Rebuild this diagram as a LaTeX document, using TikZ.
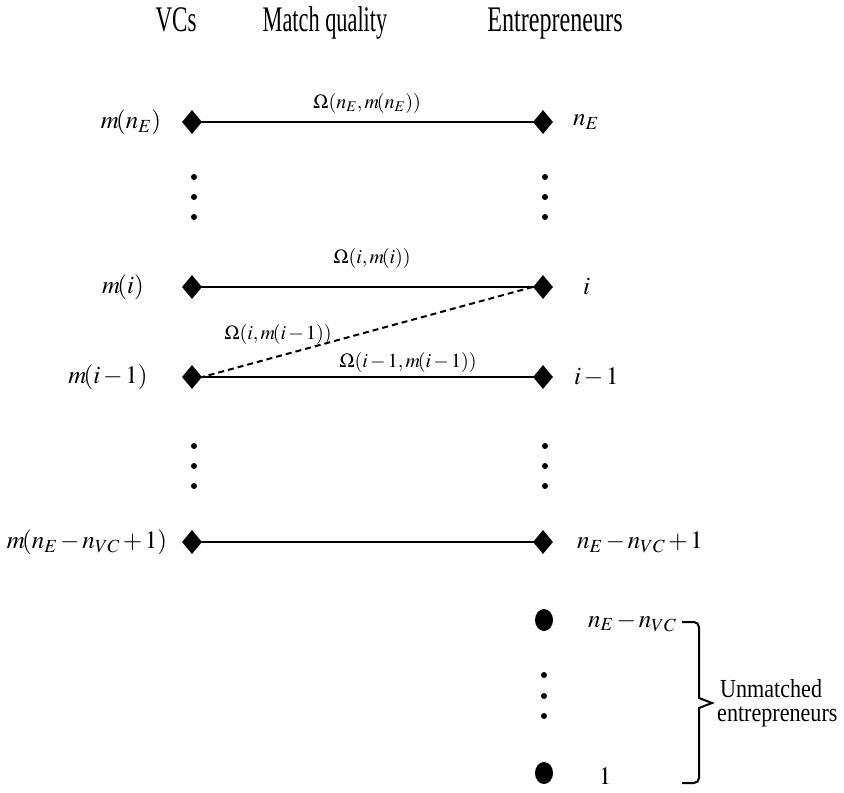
\documentclass[tikz,border=0pt]{standalone}
\usepackage{mathptmx}
\usepackage[no-math]{fontspec}
\setmainfont{Liberation Serif}
\usepackage{graphicx}
\usetikzlibrary{shapes.geometric}
\medmuskip=2mu plus 1mu minus 1mu
\newcommand{\tm}{m\mkern-2mu}
\begin{document}
\begin{tikzpicture}[x=1pt,y=-1pt,
  vd/.style={diamond, fill=black, inner sep=0pt, minimum width=20pt, minimum height=24pt},
  bd/.style={ellipse, fill=black, inner sep=0pt, minimum width=18pt, minimum height=22pt},
  sd/.style={circle, fill=black, inner sep=0pt, minimum size=6pt},
  lab/.style={font=\fontsize{25}{30}\selectfont, inner sep=0pt},
  om/.style={font=\fontsize{20}{24}\selectfont, inner sep=0pt},
  hd/.style={font=\fontsize{36}{40}\selectfont, inner sep=0pt, anchor=base},
  um/.style={font=\fontsize{26}{30}\selectfont, inner sep=0pt, anchor=base west},
  link/.style={line width=2.5pt},
  dlink/.style={line width=2pt, dash pattern=on 6pt off 4pt}]
\useasboundingbox (0,0) rectangle (844,793);
% headers
\node[hd] (h1) at (176,31) {\scalebox{0.64}[1]{VCs}};
\node[hd] (h2) at (325,31) {\scalebox{0.62}[1]{Match quality}};
\node[hd] (h3) at (555,31) {\scalebox{0.67}[1]{Entrepreneurs}};
% diamonds
\node[vd] (l1) at (192,122) {};
\node[vd] (r1) at (543,122) {};
\node[vd] (l2) at (192,287) {};
\node[vd] (r2) at (543,287) {};
\node[vd] (l3) at (192,377) {};
\node[vd] (r3) at (543,377) {};
\node[vd] (l4) at (192,542) {};
\node[vd] (r4) at (543,542) {};
\node[bd] (r5) at (544,620) {};
\node[bd] (r6) at (544,773) {};
% links
\draw[link] (l1.center) -- (r1.center);
\draw[link] (l2.center) -- (r2.center);
\draw[link] (l3.center) -- (r3.center);
\draw[link] (l4.center) -- (r4.center);
\draw[dlink] (r2.west) -- (l3.east);
% dots
\foreach \n/\x/\y in {a1/194/177, a2/194/197, a3/194/217,
                     b1/545/177, b2/545/197, b3/545/217,
                     c1/194/446, c2/194/466, c3/194/486,
                     d1/545/446, d2/545/466, d3/545/486,
                     e1/544/675, e2/544/696, e3/544/716}
  \node[sd] (\n) at (\x,\y) {};
% left labels
\node[lab] (tl1) at (131,122) {$\tm(n_E)$};
\node[lab] (tl2) at (123,287) {$\tm(i)$};
\node[lab] (tl3) at (108,377) {$\tm(i-1)$};
\node[lab] (tl4) at (87,542) {$\tm(n_E-n_{VC}+1)$};
% right labels
\node[lab, anchor=west] (tr1) at (573,122) {$n_E$};
\node[lab, anchor=west] (tr2) at (583,287) {$i$};
\node[lab, anchor=west] (tr3) at (574,377) {$i-1$};
\node[lab, anchor=west] (tr4) at (577,542) {$n_E-n_{VC}+1$};
\node[lab, anchor=west] (tr5) at (588,622) {$n_E-n_{VC}$};
\node[lab] (tr6) at (605,776) {$1$};
% match quality labels
\node[om] (o1) at (367,103) {$\Omega(n_E,\tm(n_E))$};
\node[om] (o2) at (372,258) {$\Omega(i,\tm(i))$};
\node[om] (o3) at (278,334) {$\Omega(i,\tm(i-1))$};
\node[om] (o4) at (408,362) {$\Omega(i-1,\tm(i-1))$};
% bracket
\coordinate (bt) at (682,622);
\coordinate (bb) at (682,783);
\draw[line width=2pt, line join=miter] (bt) -- (694,622) to[out=0,in=90] (699,627) -- (699,698) -- (712,703) -- (699,708) -- (699,778) to[out=-90,in=0] (694,783) -- (bb);
\node[um] (u1) at (720,697) {\scalebox{0.85}[1]{Unmatched}};
\node[um] (u2) at (717,721) {\scalebox{0.85}[1]{entrepreneurs}};
\end{tikzpicture}
\end{document}
